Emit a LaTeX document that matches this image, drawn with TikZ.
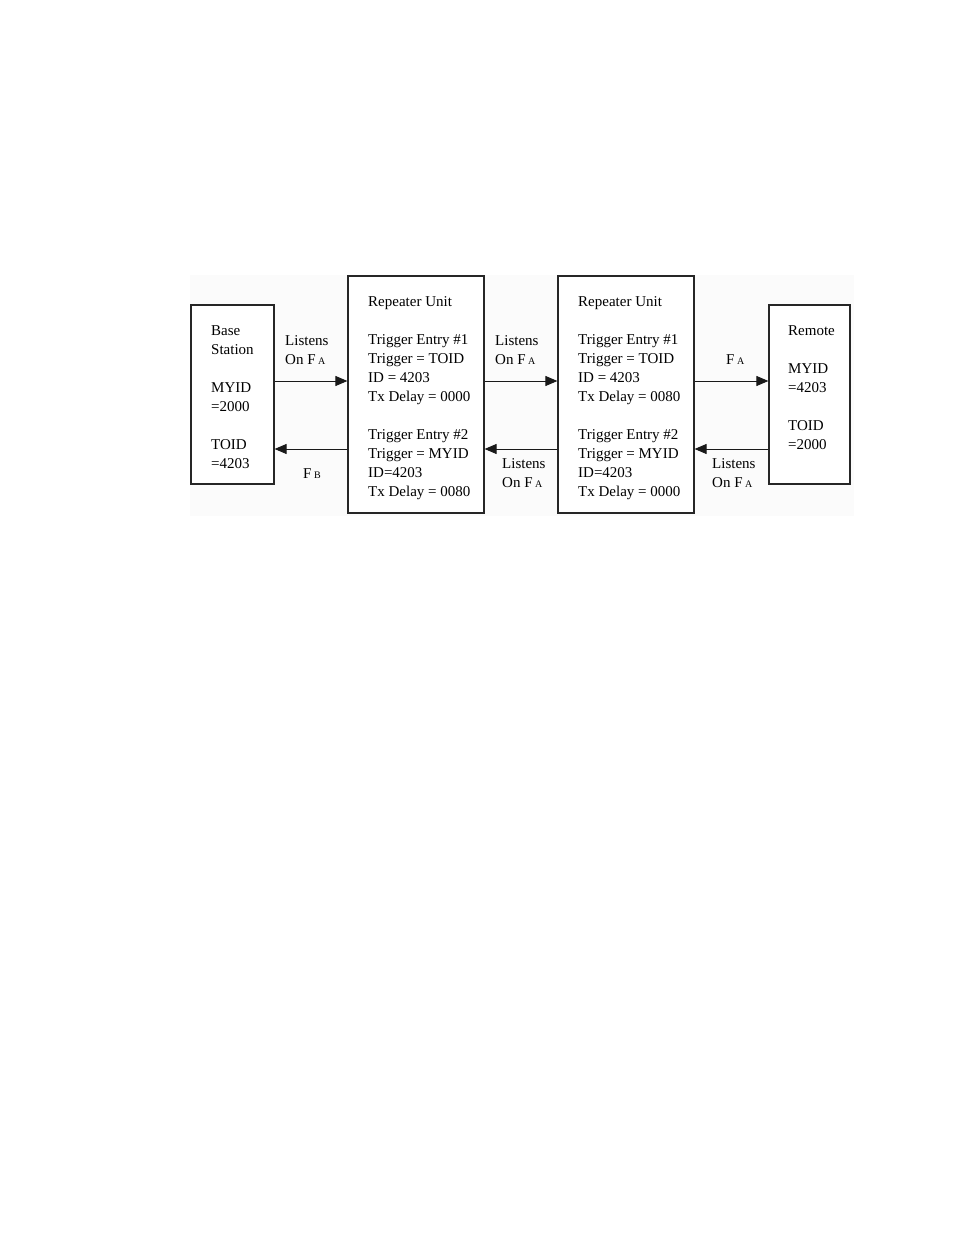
\documentclass[tikz,border=0pt]{standalone}
\usepackage{fontspec}
\setmainfont{Liberation Serif}
\usetikzlibrary{arrows.meta}
\newcommand{\fsub}[1]{F\,{\fontsize{10}{10}\selectfont #1}}

\begin{document}
\begin{tikzpicture}[x=1pt,y=-1pt,
        box/.style={draw=black!85, line width=1.2pt, inner sep=0pt, fill=white},
        txt/.style={anchor=north west, inner sep=0pt, align=left, font=\fontsize{15}{19}\selectfont},
        arr/.style={-{Triangle[length=12pt,width=10pt]}, line width=1pt, black!90}]
        \useasboundingbox (0,0) rectangle (954,1235);
        \fill[black!1.5] (190,275) rectangle (854,516);
        \node[box, minimum width=83pt, minimum height=179pt] (base) at (232.5,394.5) {};
        \node[box, minimum width=136pt, minimum height=237pt] (rep1) at (416,394.5) {};
        \node[box, minimum width=136pt, minimum height=237pt] (rep2) at (626,394.5) {};
        \node[box, minimum width=81pt, minimum height=179pt] (remote) at (809.5,394.5) {};
        \node[txt] (baseTxt) at (211,325) {Base\\Station\\[19pt]MYID\\=2000\\[19pt]TOID\\=4203};
        \node[txt] (rep1Txt) at (368,296) {Repeater Unit\\[19pt]Trigger Entry \#1\\Trigger = TOID\\ID = 4203\\Tx Delay = 0000\\[19pt]Trigger Entry \#2\\Trigger = MYID\\ID=4203\\Tx Delay = 0080};
        \node[txt] (rep2Txt) at (578,296) {Repeater Unit\\[19pt]Trigger Entry \#1\\Trigger = TOID\\ID = 4203\\Tx Delay = 0080\\[19pt]Trigger Entry \#2\\Trigger = MYID\\ID=4203\\Tx Delay = 0000};
        \node[txt] (remoteTxt) at (788,325) {Remote\\[19pt]MYID\\=4203\\[19pt]TOID\\=2000};
        \coordinate (top) at (0,381);
        \coordinate (bot) at (0,449);
        \draw[arr] (base.east |- top) -- (rep1.west |- top);
        \draw[arr] (rep1.east |- top) -- (rep2.west |- top);
        \draw[arr] (rep2.east |- top) -- (remote.west |- top);
        \draw[arr] (rep1.west |- bot) -- (base.east |- bot);
        \draw[arr] (rep2.west |- bot) -- (rep1.east |- bot);
        \draw[arr] (remote.west |- bot) -- (rep2.east |- bot);
        \node[txt] (listenA) at (285,335) {Listens\\On \fsub{A}};
        \node[txt] (listenB) at (495,335) {Listens\\On \fsub{A}};
        \node[txt] (freqA) at (726,354) {\fsub{A}};
        \node[txt] (freqB) at (303,468) {\fsub{B}};
        \node[txt] (listenC) at (502,458) {Listens\\On \fsub{A}};
        \node[txt] (listenD) at (712,458) {Listens\\On \fsub{A}};
\end{tikzpicture}
\end{document}
